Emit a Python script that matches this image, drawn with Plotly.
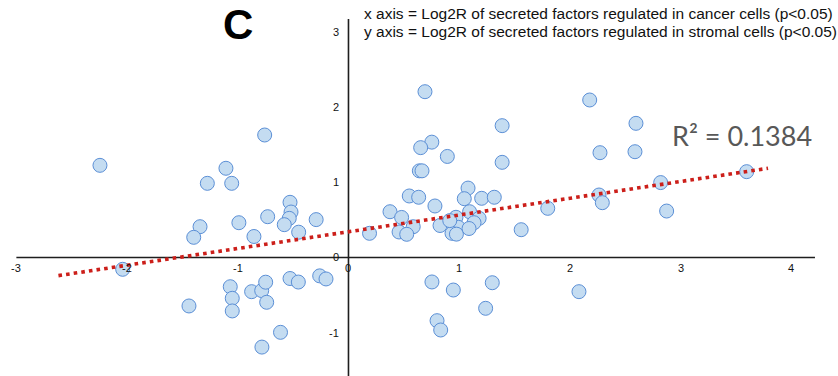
import plotly.graph_objects as go

# Log2 ratios of secreted factors: cancer cells (x) vs stromal cells (y)
log2r_cancer = [
    -2.245, -1.107, -1.275, -1.055, -0.757, -0.528, -0.519, -0.535, -0.580, -0.730,
    -0.990, -1.341, -1.398, -0.854, -0.450, -0.292,
    -2.040, -1.068, -1.050, -1.050, -1.441, -0.875, -0.784, -0.748, -0.739, -0.528,
    -0.453, -0.260, -0.203, -0.614, -0.782,
    0.691, 2.179, 1.388, 2.597, 0.753, 0.652, 0.893, 2.272, 2.588, 1.388,
    0.640, 0.664, 3.597, 2.820, 1.080, 0.549, 0.634, 0.781, 1.046, 1.203,
    1.317, 0.375, 0.480, 0.585, 0.457, 0.526, 0.190, 0.827, 0.971, 1.094,
    1.180, 1.134, 0.992, 0.935, 0.975, 1.089, 0.915, 1.560, 1.800, 2.263,
    2.293, 2.874,
    0.754, 0.947, 1.299, 1.239, 0.800, 0.833, 2.082,
]
log2r_stromal = [
    1.224, 1.185, 0.985, 0.985, 1.627, 0.733, 0.604, 0.520, 0.436, 0.542,
    0.462, 0.409, 0.268, 0.279, 0.336, 0.503,
    -0.157, -0.388, -0.542, -0.710, -0.644, -0.454, -0.440, -0.328, -0.595, -0.279,
    -0.326, -0.244, -0.285, -0.994, -1.190,
    2.202, 2.092, 1.751, 1.782, 1.532, 1.459, 1.342, 1.392, 1.405, 1.264,
    1.151, 1.151, 1.140, 0.995, 0.922, 0.817, 0.800, 0.684, 0.781, 0.786,
    0.800, 0.608, 0.532, 0.409, 0.339, 0.308, 0.321, 0.425, 0.534, 0.608,
    0.520, 0.462, 0.401, 0.321, 0.310, 0.385, 0.490, 0.369, 0.653, 0.830,
    0.728, 0.617,
    -0.325, -0.432, -0.335, -0.675, -0.839, -0.963, -0.454,
]

# Linear trend line
trend_slope = 0.2224
trend_intercept = 0.342
trend_x = [-2.62, 3.79]
r_squared = 0.1384

x_ticks = [-3, -2, -1, 0, 1, 2, 3, 4]
y_ticks = [3, 2, 1, 0, -1]

axis_x_span = [-3.0, 4.214]
axis_y_span = [-1.7, 3.167]

header_lines = [
    "x axis = Log2R of secreted factors regulated in cancer cells (p<0.05)",
    "y axis = Log2R of secreted factors regulated in stromal cells (p<0.05)",
]
panel_letter = "C"

W, H = 838, 376

fig = go.Figure()

fig.add_trace(go.Scatter(
    x=log2r_cancer, y=log2r_stromal, mode="markers",
    marker=dict(size=14, color="#c4dcf1", line=dict(color="#5b8fd6", width=1)),
    hoverinfo="x+y", showlegend=False,
))

trend_y = [trend_intercept + trend_slope * v for v in trend_x]
fig.add_trace(go.Scatter(
    x=trend_x, y=trend_y, mode="lines",
    line=dict(color="#cc1f1a", width=3.6, dash="3.6px,4.1px"),
    hoverinfo="skip", showlegend=False,
))

# Cross-shaped axes through the origin
fig.add_shape(type="line", x0=axis_x_span[0], x1=axis_x_span[1], y0=0, y1=0,
              line=dict(color="#1e1e1e", width=1.6), layer="below")
fig.add_shape(type="line", x0=0, x1=0, y0=axis_y_span[0], y1=axis_y_span[1],
              line=dict(color="#1e1e1e", width=1.6), layer="below")

tick_font = dict(family="Liberation Sans, Arial, sans-serif", size=11, color="#111")
annotations = []
for t in x_ticks:
    annotations.append(dict(x=t, y=0, xref="x", yref="y", text=str(t), showarrow=False,
                            xanchor="center", yanchor="middle", yshift=-11, font=tick_font))
for t in y_ticks:
    annotations.append(dict(x=0, y=t, xref="x", yref="y", text=str(t), showarrow=False,
                            xanchor="right", yanchor="middle", xshift=-7, font=tick_font))

annotations.append(dict(
    x=742 / W, y=1 - 135 / H, xref="paper", yref="paper",
    text=f"R² = {r_squared:.4f}", showarrow=False, xanchor="center", yanchor="middle",
    font=dict(family="Lato, sans-serif", size=27, color="#585858"),
))
for i, line in enumerate(header_lines):
    annotations.append(dict(
        x=362 / W, y=1 - (13.3 + 18.4 * i) / H, xref="paper", yref="paper",
        text=line, showarrow=False, xanchor="left", yanchor="middle",
        font=dict(family="Liberation Sans, Arial, sans-serif", size=15.5, color="#111"),
    ))
annotations.append(dict(
    x=237.7 / W, y=1 - 25 / H, xref="paper", yref="paper",
    text=f"<b>{panel_letter}</b>", showarrow=False, xanchor="center", yanchor="middle",
    font=dict(family="Liberation Sans, Arial, sans-serif", size=42, color="#000"),
))

fig.update_layout(
    width=W, height=H,
    margin=dict(l=0, r=0, t=0, b=0),
    paper_bgcolor="white", plot_bgcolor="white",
    xaxis=dict(range=[-3.148, 4.422], visible=False, fixedrange=True),
    yaxis=dict(range=[-1.574, 3.42], visible=False, fixedrange=True),
    annotations=annotations,
)

fig.write_html("out.html")
